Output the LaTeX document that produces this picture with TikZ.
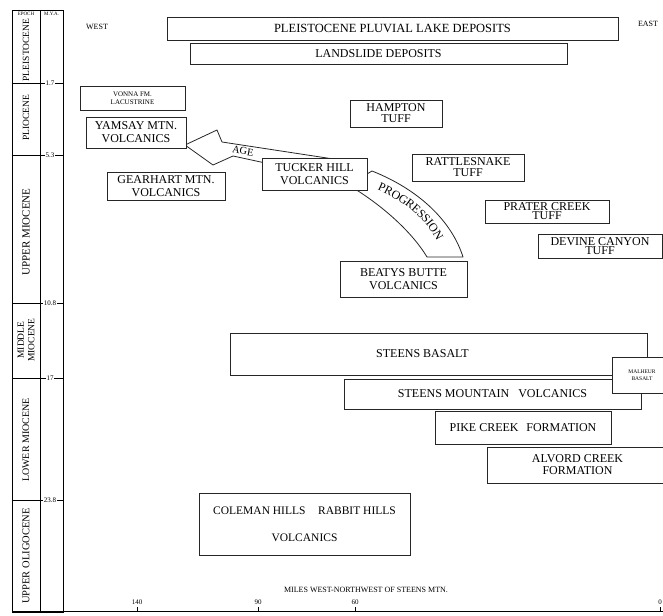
\documentclass[tikz,border=0pt]{standalone}
\usepackage{fontspec}
\setmainfont{Liberation Serif}
\usetikzlibrary{positioning,decorations.text}

\newcommand\progfont{\fontsize{12}{12}\selectfont}

\tikzset{
  rockbox/.style={draw=black!85, line width=0.7pt, fill=white, inner sep=1pt, align=center, font=\fontsize{12}{13}\selectfont},
  epoch/.style={rotate=90, align=center, font=\fontsize{9.5}{10.5}\selectfont},
  malabel/.style={fill=white, inner sep=0.8pt, font=\fontsize{7}{8}\selectfont},
  bandarrow/.style={draw=black!85, line width=0.8pt, fill=white, line join=round},
  small/.style={font=\fontsize{8}{9}\selectfont},
}

\begin{document}
\begin{tikzpicture}[x=1pt,y=-1pt]
\useasboundingbox (0,0) rectangle (663,615);

% time scale
\draw[line width=0.8pt] (12,10) rectangle (63,612);
\draw[line width=0.8pt] (40,10) -- (40,612);
\node[font=\fontsize{5}{6}\selectfont] (hdepoch) at (26,14) {EPOCH};
\node[font=\fontsize{5}{6}\selectfont] (hdma) at (51.5,14) {M.Y.A.};
\foreach \y/\ma in {83/1.7, 155/5.3, 303/10.8, 378/17, 500/23.8}
{
  \draw[line width=0.8pt] (12,\y) -- (63,\y);
  \node[malabel] at (50,\y) {\ma};
}
\node[epoch] (pleist) at (26,50) {PLEISTOCENE};
\node[epoch] (plio) at (26,118) {PLIOCENE};
\node[epoch, font=\fontsize{11}{12}\selectfont] (umio) at (26,232) {UPPER MIOCENE};
\node[epoch] (mmio) at (26,340) {MIDDLE\\MIOCENE};
\node[epoch, font=\fontsize{10}{11}\selectfont] (lmio) at (26,440) {LOWER MIOCENE};
\node[epoch, font=\fontsize{10.5}{11}\selectfont] (uoli) at (26,556) {UPPER OLIGOCENE};

% distance axis
\draw[line width=1pt] (12,611) -- (663,611);
\foreach \x/\mi in {137/140, 258/90, 355/60, 660/0}
{
  \draw (\x,611) -- (\x,607);
  \node[malabel, fill=none] at (\x,602) {\mi};
}
\node[small] (axis) at (366,590) {MILES WEST-NORTHWEST OF STEENS MTN.};
\node[small] (west) at (97,27) {WEST};
\node[small] (east) at (648,24) {EAST};

% trend arrows
\draw[bandarrow] (185,145) -- (217,130) -- (222,142) -- (340,160) -- (270,164)
  -- (233,156) -- (213,165) -- cycle;
\node[font=\fontsize{10.5}{11}\selectfont, rotate=-10] (age) at (243,151) {AGE};
\draw[bandarrow] (362,177) -- (372,171) .. controls (420,190) and (452,222) .. (463,257)
  -- (427,257) .. controls (412,232) and (382,205) .. (350,186) -- cycle;
\path[decorate, decoration={text along path, text={|\progfont|PROGRESSION},
  text align=center, raise=-3.5pt}]
  (361,180) .. controls (414,197) and (440,228) .. (446,257);

% units
\node[rockbox, minimum width=451, minimum height=23, font=\fontsize{12.5}{13}\selectfont] (pluvial) at (392.5,28.5) {PLEISTOCENE PLUVIAL LAKE DEPOSITS};
\node[rockbox, minimum width=377, minimum height=21] (slide) at (378.5,53.5) {LANDSLIDE DEPOSITS};
\node[rockbox, minimum width=105, minimum height=24, font=\fontsize{7}{8}\selectfont] (vonna) at (132.5,98.5) {VONNA FM.\\LACUSTRINE};
\node[rockbox, minimum width=100, minimum height=31] (yamsay) at (136,132.5) {YAMSAY MTN.\\VOLCANICS};
\node[rockbox, minimum width=118, minimum height=28] (gearhart) at (166,186) {GEARHART MTN.\\VOLCANICS};
\node[rockbox, minimum width=92, minimum height=27, font=\fontsize{12}{11}\selectfont] (hampton) at (396,113.5) {HAMPTON\\TUFF};
\node[rockbox, minimum width=105, minimum height=32] (tucker) at (314.5,174) {TUCKER HILL\\VOLCANICS};
\node[rockbox, minimum width=112, minimum height=27, font=\fontsize{12}{11}\selectfont] (rattle) at (468,167.5) {RATTLESNAKE\\TUFF};
\node[rockbox, minimum width=124, minimum height=23, font=\fontsize{12}{9}\selectfont] (prater) at (547,211.5) {PRATER CREEK\\TUFF};
\node[rockbox, minimum width=124, minimum height=24, font=\fontsize{12}{9}\selectfont] (devine) at (600,246) {DEVINE CANYON\\TUFF};
\node[rockbox, minimum width=127, minimum height=36] (beatys) at (403.5,279) {BEATYS BUTTE\\VOLCANICS};
\node[rockbox, minimum width=417, minimum height=42] (steensb) at (438.5,354) {STEENS BASALT\hspace*{32pt}};
\node[rockbox, minimum width=297, minimum height=30] (smv) at (492.5,394) {STEENS MOUNTAIN\hspace{0.5em} VOLCANICS};
\node[rockbox, minimum width=60, minimum height=36, font=\fontsize{5.5}{7}\selectfont] (malheur) at (642,375) {MALHEUR\\BASALT};
\node[rockbox, minimum width=176, minimum height=33] (pike) at (523,427.5) {PIKE CREEK\hspace{0.4em} FORMATION};
\node[rockbox, minimum width=181, minimum height=36, font=\fontsize{12}{12}\selectfont] (alvord) at (577.5,465) {ALVORD CREEK\\FORMATION};
\node[rockbox, minimum width=211, minimum height=62, font=\fontsize{11.5}{12}\selectfont] (coleman) at (304.5,524) {COLEMAN HILLS\hspace{1.1em}RABBIT HILLS\\[15pt]VOLCANICS};
\end{tikzpicture}
\end{document}
